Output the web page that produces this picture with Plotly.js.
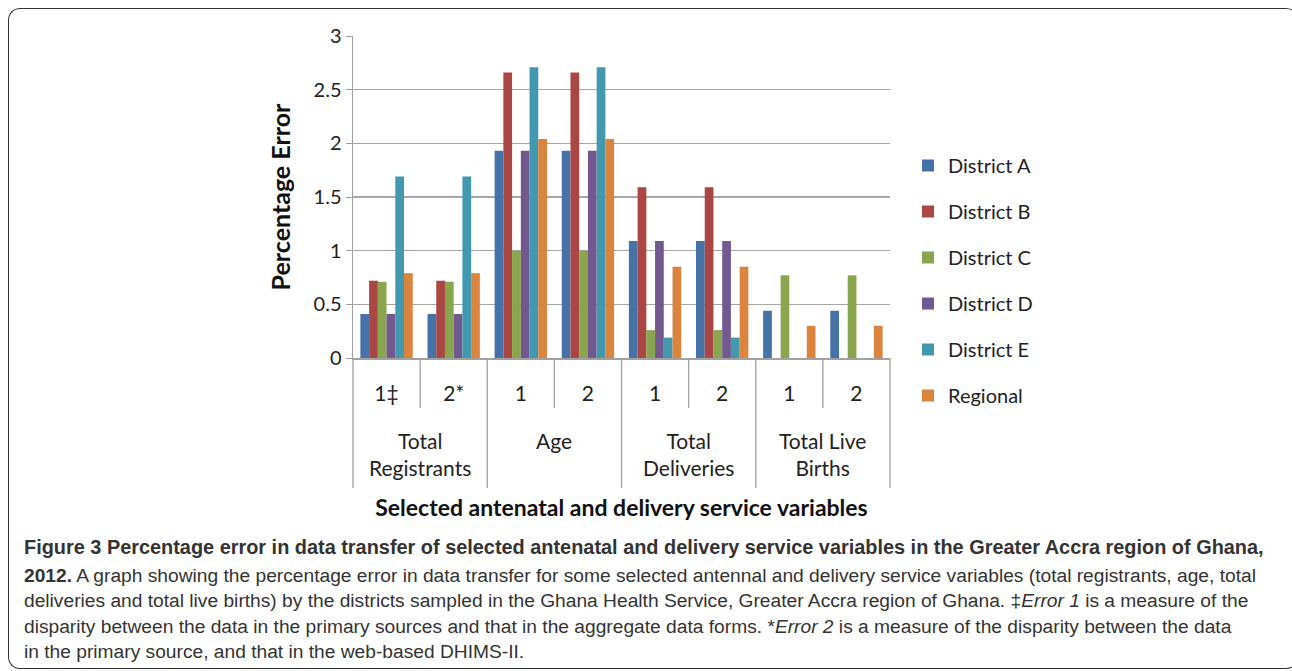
<!DOCTYPE html>
<html>
<head>
<meta charset="utf-8">
<script src="https://cdn.plot.ly/plotly-3.0.1.min.js"></script>
<style>
html,body{margin:0;padding:0;background:#fff;}
#wrap{position:relative;width:1292px;height:671px;}
#chart{width:1292px;height:671px;}
#frame{position:absolute;left:8px;top:8px;width:1290px;height:661px;border:1.5px solid #333;border-radius:12px;border-right:none;pointer-events:none;box-sizing:border-box;}
</style>
</head>
<body>
<div id="wrap"><div id="chart"></div><div id="frame"></div></div>
<script>
// Data
const groupNames = ["Total<br>Registrants","Age","Total<br>Deliveries","Total Live<br>Births"];
const groupOf = [0,0,1,1,2,2,3,3];
const subLabels = ["1‡","2*","1","2","1","2","1","2"];
const categoryKeys = ["TR-1","TR-2","AGE-1","AGE-2","TD-1","TD-2","TLB-1","TLB-2"];
const seriesNames = ["District A","District B","District C","District D","District E","Regional"];
const districtA = [0.41, 0.41, 1.93, 1.93, 1.09, 1.09, 0.44, 0.44];
const districtB = [0.72, 0.72, 2.66, 2.66, 1.59, 1.59, 0, 0];
const districtC = [0.71, 0.71, 1.00, 1.00, 0.26, 0.26, 0.77, 0.77];
const districtD = [0.41, 0.41, 1.93, 1.93, 1.09, 1.09, 0, 0];
const districtE = [1.69, 1.69, 2.71, 2.71, 0.19, 0.19, 0, 0];
const regional  = [0.79, 0.79, 2.04, 2.04, 0.85, 0.85, 0.30, 0.30];
const seriesValues = [districtA, districtB, districtC, districtD, districtE, regional];
const colors = ["#4572A7","#AA4643","#89A54E","#71588F","#4198AF","#DB843D"];
const yTicks = [0, 0.5, 1, 1.5, 2, 2.5, 3];
const yTickText = ["0","0.5","1","1.5","2","2.5","3"];

const traces = seriesNames.map((n,i)=>({
  type:'bar', name:n, x:categoryKeys, y:seriesValues[i],
  marker:{color:colors[i], line:{width:0}}, legendgroup:n
}));

const L = 353, R = 890, T = 36, B = 358;
const W = 1292, H = 671;
const py2y = p => (B - p)/(B - T);
const px2x = p => (p - L)/(R - L);
const grey = '#a0a0a0';

// boundary lines (category boundaries), derived from category indices
const shapes = [];
for (let i = 0; i <= categoryKeys.length; i++) {
  const isGroupEdge = (i === 0 || i === categoryKeys.length || groupOf[i] !== groupOf[i-1]);
  shapes.push({type:'line', xref:'paper', yref:'paper',
    x0:i/categoryKeys.length, x1:i/categoryKeys.length, y0:0, y1:py2y(isGroupEdge ? 488 : 408),
    line:{color:grey, width:1.3}});
}

// group labels centred under their categories
const annotations = groupNames.map((g,gi)=>{
  const idx = groupOf.map((v,i)=>v===gi?i:-1).filter(i=>i>=0);
  const c = (idx[0] + idx[idx.length-1]) / 2;
  return {text:g, xref:'x', yref:'paper', x:c, y:py2y(426), yanchor:'top', xanchor:'center',
    showarrow:false, font:{size:21, color:'#222', family:'Lato, sans-serif'}, align:'center'};
});

const capFont = {family:"Liberation Sans, sans-serif", size:19, color:"#333"};
const capLines = [
  ["<b>Figure 3 Percentage error in data transfer of selected antenatal and delivery service variables in the Greater Accra region of Ghana,</b>", 547, 19.9],
  ["<b>2012.</b> A graph showing the percentage error in data transfer for some selected antennal and delivery service variables (total registrants, age, total", 575, 19.2],
  ["deliveries and total live births) by the districts sampled in the Ghana Health Service, Greater Accra region of Ghana. ‡<i>Error 1</i> is a measure of the", 600, 19.2],
  ["disparity between the data in the primary sources and that in the aggregate data forms. *<i>Error 2</i> is a measure of the disparity between the data", 626, 19.2],
  ["in the primary source, and that in the web-based DHIMS-II.", 651, 19.2]
];
capLines.forEach(([t,y,s])=>annotations.push({
  text:t, xref:'paper', yref:'paper', x:px2x(22), y:py2y(y), xanchor:'left', yanchor:'middle',
  showarrow:false, align:'left', font:Object.assign({}, capFont, {size:s})
}));

const layout = {
  width:W, height:H,
  margin:{l:L, r:W-R, t:T, b:H-B, autoexpand:false},
  paper_bgcolor:'#fff', plot_bgcolor:'#fff',
  barmode:'group', bargap:0.22, bargroupgap:0,
  font:{family:"Lato, sans-serif", color:"#222"},
  xaxis:{type:'category', tickmode:'array', tickvals:categoryKeys, ticktext:subLabels,
    showline:true, linecolor:grey, linewidth:1.5, ticks:'', ticklabelstandoff:16,
    tickfont:{size:21, color:'#222'}, showgrid:false, automargin:false,
    title:{text:"<b>Selected antenatal and delivery service variables</b>", font:{size:23, color:'#111'}, standoff:96}},
  yaxis:{range:[0,3], tickmode:'array', tickvals:yTicks, ticktext:yTickText, showline:true, linecolor:grey, linewidth:1.5,
    ticks:'outside', ticklen:6, tickcolor:grey, showgrid:true, gridcolor:'#a6a6a6', gridwidth:1.5,
    zeroline:false, tickfont:{size:20, color:'#222'}, automargin:false,
    title:{text:"<b>Percentage Error</b>", font:{size:25, color:'#111'}, standoff:16}},
  legend:{x:px2x(908), y:py2y(146), xanchor:'left', yanchor:'top', font:{size:20, color:'#222'},
    tracegroupgap:17, bgcolor:'rgba(0,0,0,0)'},
  shapes:shapes,
  annotations:annotations,
  showlegend:true
};
Plotly.newPlot('chart', traces, layout, {displayModeBar:false, staticPlot:true});
</script>
</body>
</html>
